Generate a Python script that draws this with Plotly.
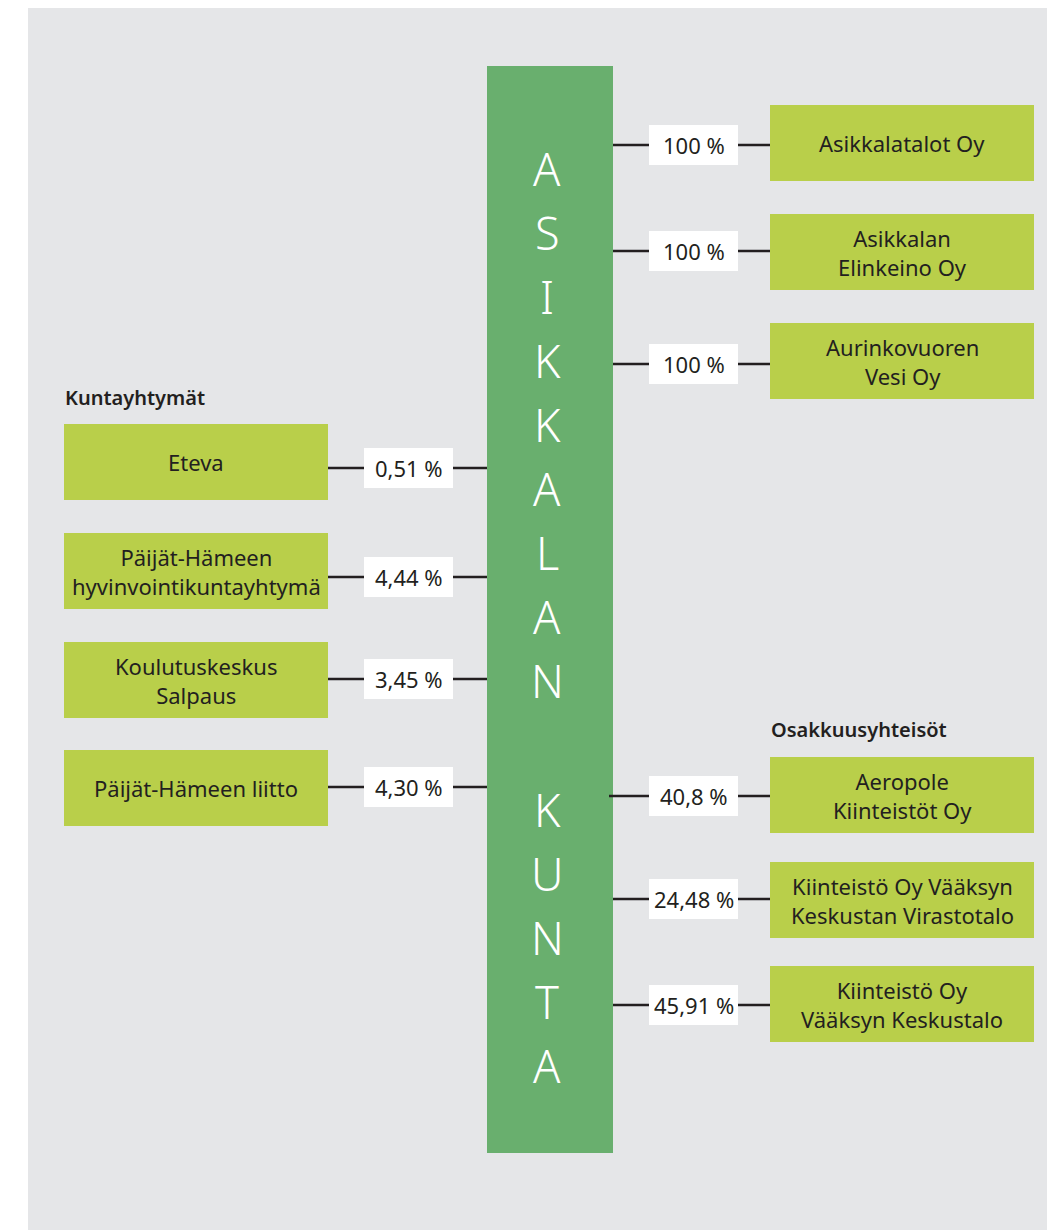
import plotly.graph_objects as go

# ---- data ----
center_title = "ASIKKALAN KUNTA"

left_header = "Kuntayhtymät"
left_names = ["Eteva", "Päijät-Hämeen<br>hyvinvointikuntayhtymä",
              "Koulutuskeskus<br>Salpaus", "Päijät-Hämeen liitto"]
left_shares = ["0,51 %", "4,44 %", "3,45 %", "4,30 %"]

right_top_names = ["Asikkalatalot Oy", "Asikkalan<br>Elinkeino Oy",
                   "Aurinkovuoren<br>Vesi Oy"]
right_top_shares = ["100 %", "100 %", "100 %"]

right_header = "Osakkuusyhteisöt"
right_bot_names = ["Aeropole<br>Kiinteistöt Oy", "Kiinteistö Oy Vääksyn<br>Keskustan Virastotalo",
                   "Kiinteistö Oy<br>Vääksyn Keskustalo"]
right_bot_shares = ["40,8 %", "24,48 %", "45,91 %"]

# ---- layout geometry (page pixels) ----
W, H = 1055, 1230
OFF = 8  # default body margin of the html page
BG = "#E5E6E8"
GREEN = "#69AF6E"
LIME = "#B9CF4A"
DARK = "#231F20"
FONT = "Noto Sans"

left_box_y = [424, 533, 642, 750]
left_line_y = [468, 577, 679, 787]
right_top_box_y = [105, 214, 323]
right_top_line_y = [145, 251, 364]
right_bot_box_y = [757, 862, 966]
right_bot_line_y = [796, 899, 1005]
BOX_H = 76
LBX0, LBX1 = 64, 328
RBX0, RBX1 = 770, 1034
BAR_X0, BAR_X1, BAR_Y0, BAR_Y1 = 487, 613, 66, 1153
LLAB0, LLAB1 = 364, 453
RLAB0, RLAB1 = 649, 738
LAB_H = 40

shapes = []
annotations = []

# background
shapes.append(dict(type="rect", x0=28, x1=W + 2, y0=7, y1=H + 2, fillcolor=BG, line_width=0, layer="below"))


def add_entry(name, share, ytop, yline, side):
    if side == "left":
        bx0, bx1, lx0, lx1 = LBX0, LBX1, LLAB0, LLAB1
        line_x0, line_x1 = LBX1, BAR_X0
    else:
        bx0, bx1, lx0, lx1 = RBX0, RBX1, RLAB0, RLAB1
        line_x0, line_x1 = BAR_X1 - 4, RBX0
    shapes.append(dict(type="line", x0=line_x0, x1=line_x1, y0=yline, y1=yline,
                       line=dict(color=DARK, width=2.5)))
    shapes.append(dict(type="rect", x0=bx0, x1=bx1, y0=ytop, y1=ytop + BOX_H,
                       fillcolor=LIME, line_width=0))
    shapes.append(dict(type="rect", x0=lx0, x1=lx1, y0=yline - LAB_H / 2, y1=yline + LAB_H / 2,
                       fillcolor="white", line_width=0))
    annotations.append(dict(x=(bx0 + bx1) / 2, y=ytop + BOX_H / 2, text=name, showarrow=False,
                            font=dict(family=FONT, size=22, color=DARK),
                            xanchor="center", yanchor="middle"))
    annotations.append(dict(x=(lx0 + lx1) / 2, y=yline, text=share, showarrow=False,
                            font=dict(family=FONT, size=22, color=DARK),
                            xanchor="center", yanchor="middle"))


for n, s, y, yl in zip(left_names, left_shares, left_box_y, left_line_y):
    add_entry(n, s, y, yl, "left")
for n, s, y, yl in zip(right_top_names, right_top_shares, right_top_box_y, right_top_line_y):
    add_entry(n, s, y, yl, "right")
for n, s, y, yl in zip(right_bot_names, right_bot_shares, right_bot_box_y, right_bot_line_y):
    add_entry(n, s, y, yl, "right")

# central bar (on top of connectors)
shapes.append(dict(type="rect", x0=BAR_X0, x1=BAR_X1, y0=BAR_Y0, y1=BAR_Y1, fillcolor=GREEN, line_width=0))
# small connector stub over bar edge for Aeropole
shapes.append(dict(type="line", x0=BAR_X1 - 4, x1=BAR_X1, y0=right_bot_line_y[0], y1=right_bot_line_y[0],
                   line=dict(color=DARK, width=2.5)))

step = 64.1
for i, ch in enumerate(center_title):
    if ch == " ":
        continue
    annotations.append(dict(x=547, y=168 + step * i, text=ch, showarrow=False,
                            font=dict(family=FONT, size=45, color="white", weight=300),
                            xanchor="center", yanchor="middle"))

annotations.append(dict(x=LBX0 - 1, y=397, text=left_header, showarrow=False,
                        font=dict(family=FONT, size=20, color=DARK, weight=600),
                        xanchor="left", yanchor="middle"))
annotations.append(dict(x=RBX0 - 1, y=729, text=right_header, showarrow=False,
                        font=dict(family=FONT, size=20, color=DARK, weight=600),
                        xanchor="left", yanchor="middle"))

fig = go.Figure()
fig.add_trace(go.Scatter(x=[OFF, W], y=[OFF, H], mode="markers", marker=dict(opacity=0),
                         hoverinfo="skip", showlegend=False))
fig.update_layout(
    width=W - OFF, height=H - OFF, margin=dict(l=0, r=0, t=0, b=0),
    paper_bgcolor="white", plot_bgcolor="white",
    xaxis=dict(range=[OFF, W], visible=False, fixedrange=True),
    yaxis=dict(range=[H, OFF], visible=False, fixedrange=True),
    shapes=shapes, annotations=annotations, showlegend=False,
)
fig.write_html("out.html")
